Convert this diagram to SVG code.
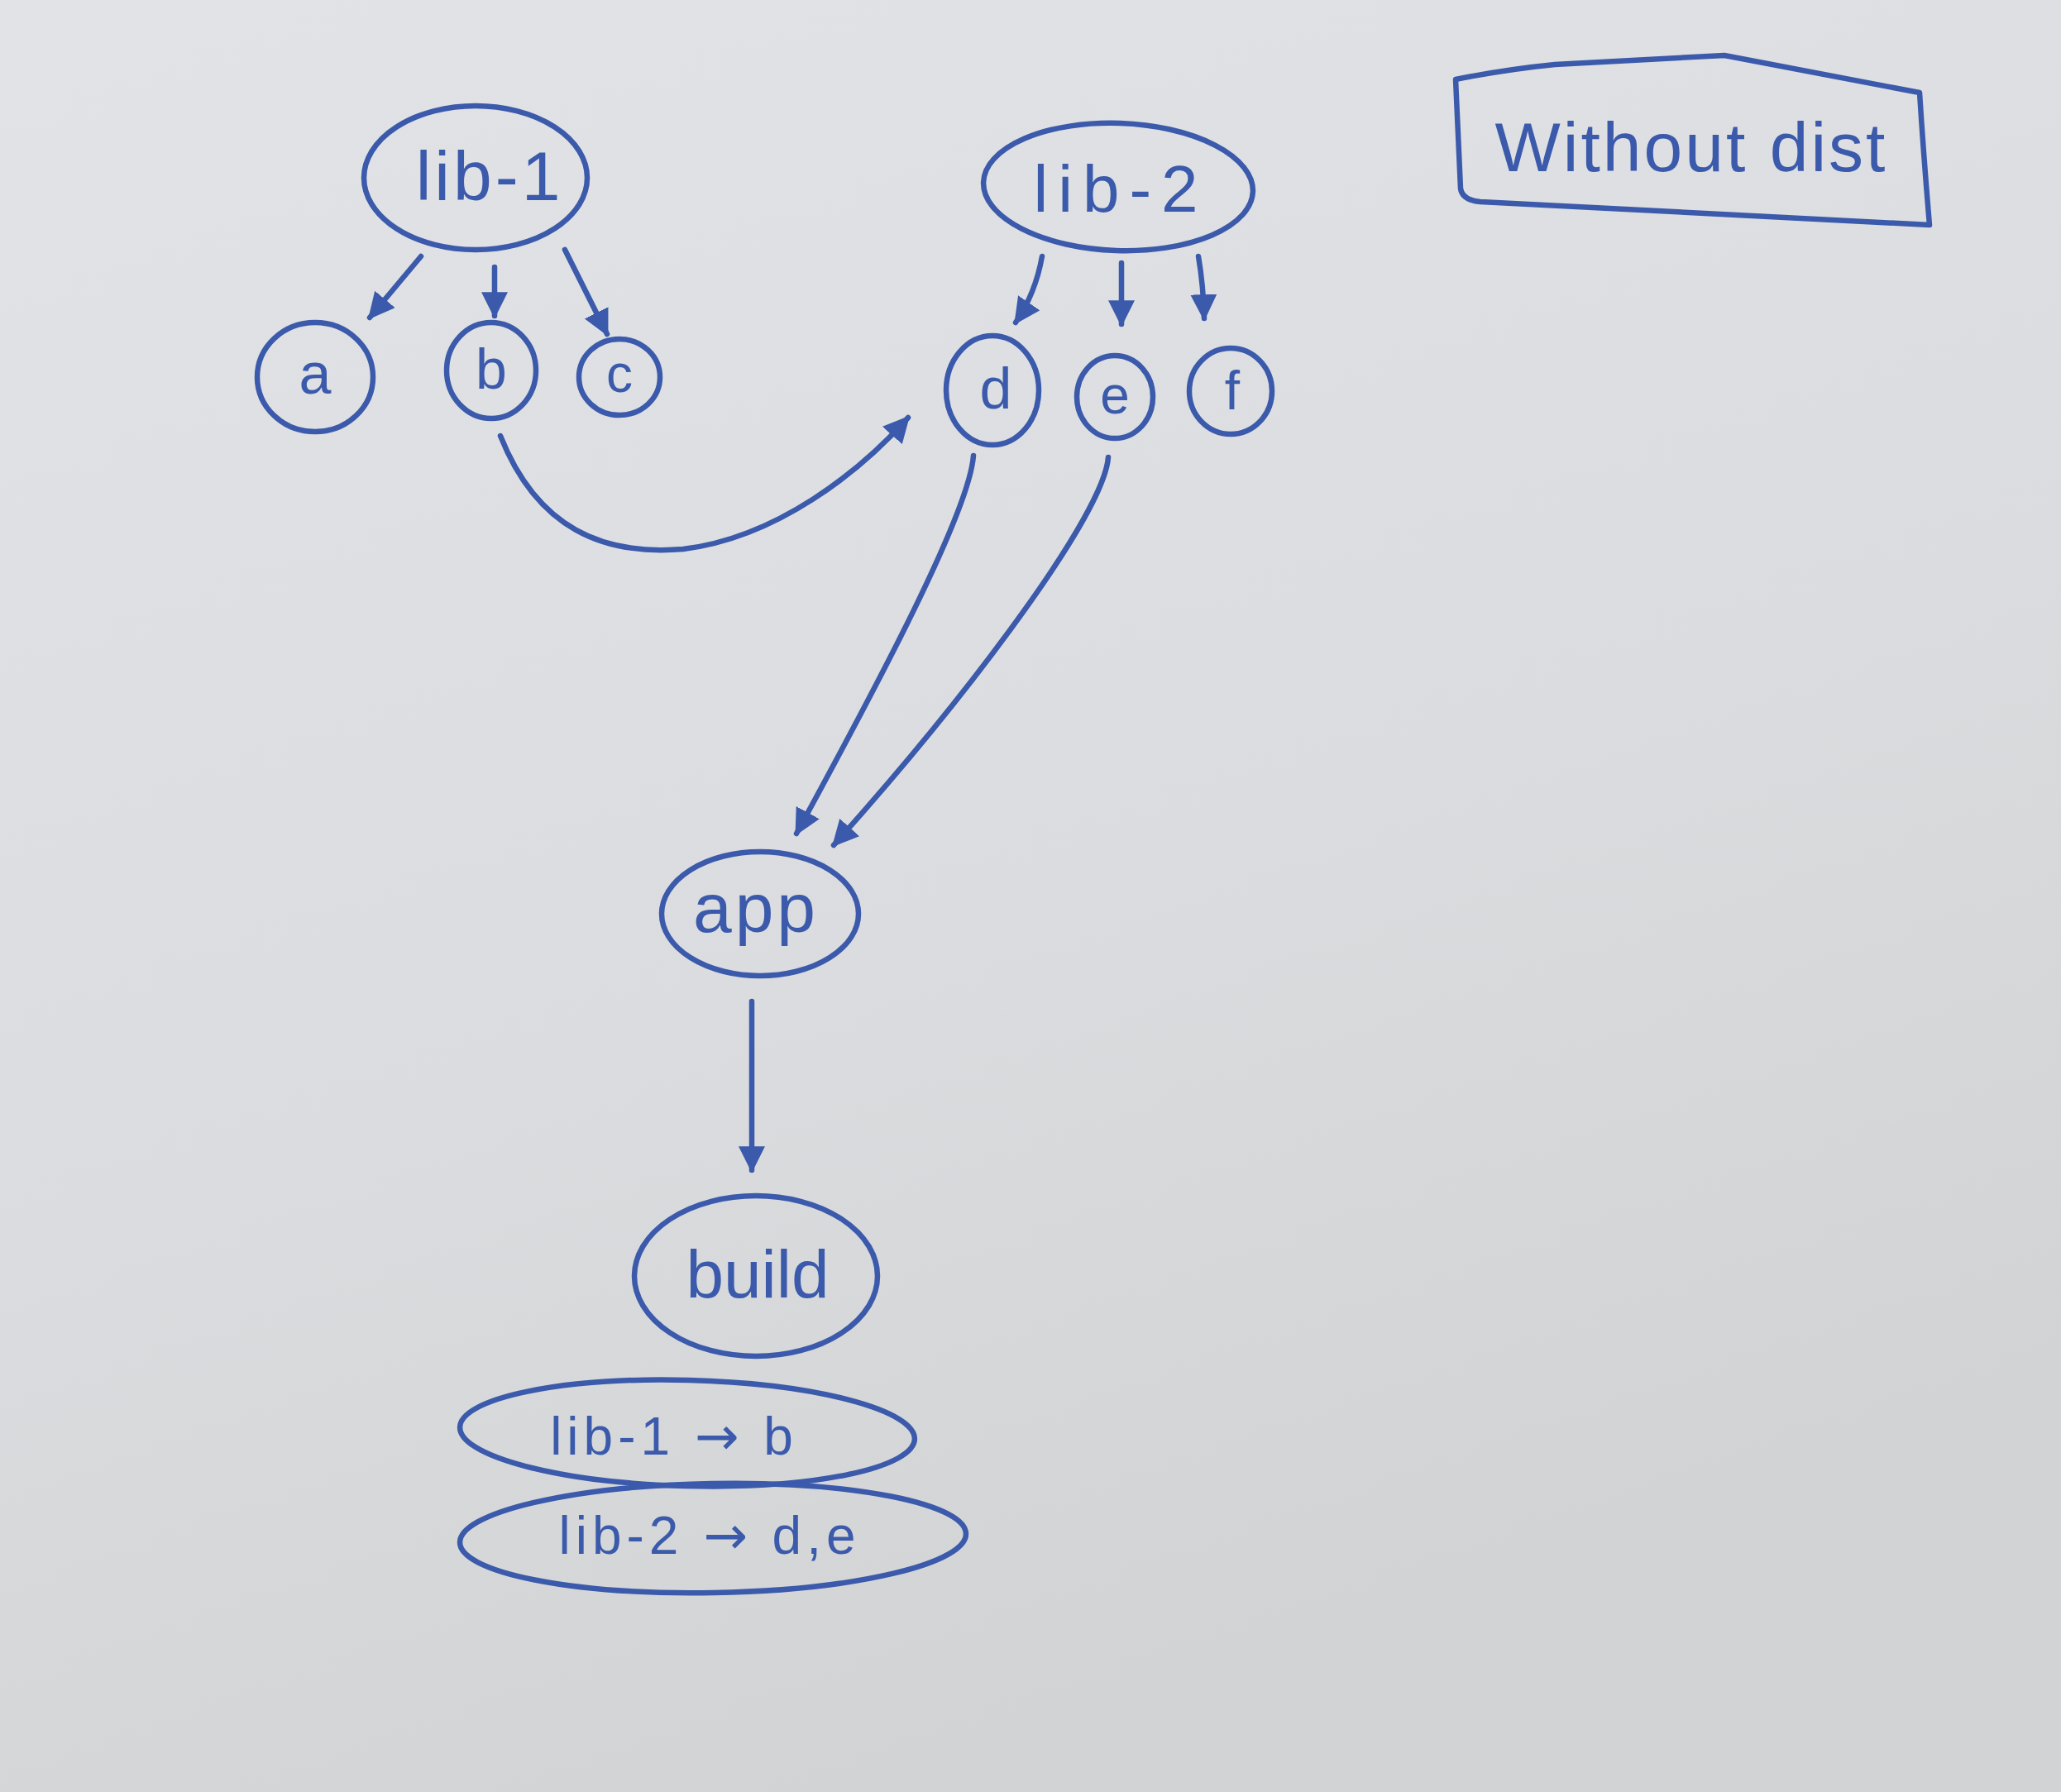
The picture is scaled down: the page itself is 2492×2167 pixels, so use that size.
<svg xmlns="http://www.w3.org/2000/svg" width="2492" height="2167" viewBox="0 0 2492 2167">
<style>
.ink{fill:none;stroke:#3b5aab;stroke-width:6.5;stroke-linecap:round;stroke-linejoin:round}
.lbl{font-family:"Liberation Sans","DejaVu Sans",sans-serif;fill:#3b5aab;text-anchor:middle;dominant-baseline:central}
.arw{font-family:"DejaVu Sans",sans-serif}
</style>
<defs>
<linearGradient id="bg" x1="0" y1="0" x2="0.4" y2="1">
<stop offset="0" stop-color="#e1e3e6"/>
<stop offset="0.6" stop-color="#dadcdf"/>
<stop offset="1" stop-color="#d2d3d4"/>
</linearGradient>
<marker id="ah" viewBox="0 0 10 10" refX="9" refY="5" markerWidth="32" markerHeight="32" markerUnits="userSpaceOnUse" orient="auto">
<path d="M0,0 L10,5 L0,10 z" fill="#3b5aab"/>
</marker>
</defs>
<rect width="2492" height="2167" fill="url(#bg)"/>

<g id="connectors">
<path class="ink" d="M509,310 L447,384" marker-end="url(#ah)"/>
<path class="ink" d="M598,323 L598,382" marker-end="url(#ah)"/>
<path class="ink" d="M683,302 L734,404" marker-end="url(#ah)"/>
<path class="ink" d="M1260,310 Q1252,355 1228,390" marker-end="url(#ah)"/>
<path class="ink" d="M1356,318 L1356,392" marker-end="url(#ah)"/>
<path class="ink" d="M1449,310 Q1455,345 1456,385" marker-end="url(#ah)"/>
<path class="ink" d="M605,527 C650,640 730,672 826,664 C940,650 1040,570 1098,505" marker-end="url(#ah)"/>
<path class="ink" d="M1177,551 C1172,620 1060,830 963,1008" marker-end="url(#ah)"/>
<path class="ink" d="M1340,553 C1335,620 1180,830 1008,1022" marker-end="url(#ah)"/>
<path class="ink" d="M909,1211 L909,1415" marker-end="url(#ah)"/>
</g>

<g id="lib-1">
<ellipse class="ink" cx="575" cy="215" rx="135" ry="87"/>
<text class="lbl" x="592" y="213" font-size="84" letter-spacing="4">lib-1</text>
</g>

<g id="lib-2">
<ellipse class="ink" cx="1352" cy="226" rx="163" ry="77" transform="rotate(2 1352 226)"/>
<text class="lbl" x="1355" y="228" font-size="80" letter-spacing="12">lib-2</text>
</g>

<g id="without-dist">
<path class="ink" d="M1760,96 C1800,88 1840,82 1880,78 L2085,67 L2321,112 Q2326,190 2333,272 L1790,244 Q1768,242 1766,228 Z"/>
<text class="lbl" x="2045" y="178" font-size="84" letter-spacing="3">Without dist</text>
</g>

<g id="a">
<ellipse class="ink" cx="381" cy="456" rx="70" ry="66"/>
<text class="lbl" x="381" y="452" font-size="70">a</text>
</g>
<g id="b">
<ellipse class="ink" cx="594" cy="448" rx="54" ry="58"/>
<text class="lbl" x="594" y="446" font-size="68">b</text>
</g>
<g id="c">
<ellipse class="ink" cx="749" cy="456" rx="49" ry="46"/>
<text class="lbl" x="749" y="452" font-size="64">c</text>
</g>
<g id="d">
<ellipse class="ink" cx="1200" cy="472" rx="56" ry="66"/>
<text class="lbl" x="1204" y="470" font-size="70">d</text>
</g>
<g id="e">
<ellipse class="ink" cx="1348" cy="480" rx="46" ry="50"/>
<text class="lbl" x="1348" y="478" font-size="64">e</text>
</g>
<g id="f">
<ellipse class="ink" cx="1488" cy="473" rx="50" ry="52"/>
<text class="lbl" x="1490" y="472" font-size="66">f</text>
</g>

<g id="app">
<ellipse class="ink" cx="919" cy="1105" rx="119" ry="75"/>
<text class="lbl" x="914" y="1098" font-size="84" letter-spacing="4">app</text>
</g>

<g id="build">
<ellipse class="ink" cx="914" cy="1543" rx="147" ry="97"/>
<text class="lbl" x="916" y="1540" font-size="82">build</text>
</g>

<g id="lib-1-b">
<ellipse class="ink" cx="831" cy="1733" rx="275" ry="64" transform="rotate(1.5 831 1733)"/>
<text class="lbl" x="815" y="1737" font-size="64" letter-spacing="6">lib-1 <tspan class="arw">→</tspan> b</text>
</g>

<g id="lib-2-de">
<ellipse class="ink" cx="862" cy="1860" rx="306" ry="66" transform="rotate(-1 862 1860)"/>
<text class="lbl" x="858" y="1857" font-size="64" letter-spacing="6">lib-2 <tspan class="arw">→</tspan> d,e</text>
</g>
</svg>
